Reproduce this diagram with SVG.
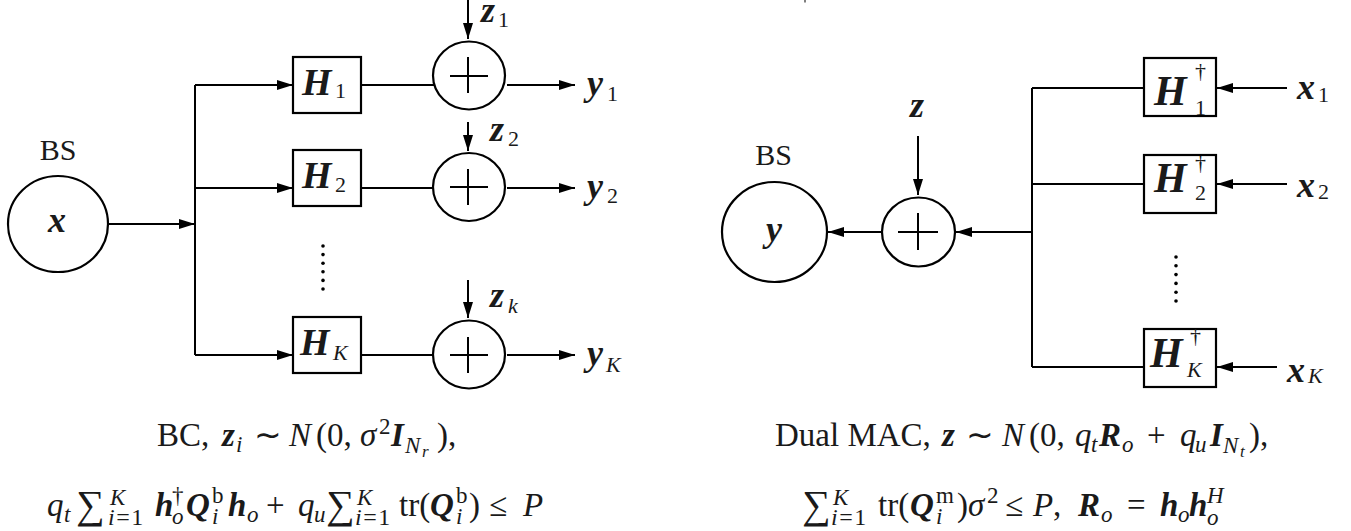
<svg xmlns="http://www.w3.org/2000/svg" width="1351" height="531" viewBox="0 0 1351 531">
<style>
.ln{stroke:#000;stroke-width:2;fill:none}
.box{fill:#fff;stroke:#000;stroke-width:2.2}
.circ{fill:#fff;stroke:#000;stroke-width:2.2}
.t{font-family:"Liberation Serif","Times New Roman",serif;fill:#1a1a1a}
.m{font-weight:bold;font-style:italic}
.i{font-style:italic}
.big{font-size:38px}
.bigr{font-size:42px}
.var{font-size:36px}
.s{font-size:22px}
.cap{font-size:33px}
.c2{font-size:23px}
.c3{font-size:17px}
.lim{font-size:24px;letter-spacing:1.5px}
.sum{font-size:40px}
.dot{fill:#000}
</style>
<defs>
<marker id="ah" viewBox="0 0 16 10" refX="16" refY="5" markerWidth="16" markerHeight="10" markerUnits="userSpaceOnUse" orient="auto"><path d="M0,0 L16,5 L0,10 z" fill="#000"/></marker>
</defs>
<rect width="1351" height="531" fill="#fff"/>
<line x1="805" y1="0" x2="805" y2="2.5" stroke="#555" stroke-width="1.5"/>

<g id="connectors">
<path class="ln" d="M108,224 H195" marker-end="url(#ah)"/>
<path class="ln" d="M195,85 V355"/>
<path class="ln" d="M195,85 H293" marker-end="url(#ah)"/>
<path class="ln" d="M195,188 H293" marker-end="url(#ah)"/>
<path class="ln" d="M195,355 H293" marker-end="url(#ah)"/>
<path class="ln" d="M361,85 H435"/>
<path class="ln" d="M361,188 H433"/>
<path class="ln" d="M361,355 H433"/>
<path class="ln" d="M468,0 V39" marker-end="url(#ah)"/>
<path class="ln" d="M468,122 V151" marker-end="url(#ah)"/>
<path class="ln" d="M468,280 V318" marker-end="url(#ah)"/>
<path class="ln" d="M507,85 H575" marker-end="url(#ah)"/>
<path class="ln" d="M507,188 H575" marker-end="url(#ah)"/>
<path class="ln" d="M507,355 H575" marker-end="url(#ah)"/>
<path class="ln" d="M882,232 H828" marker-end="url(#ah)"/>
<path class="ln" d="M918,136 V195" marker-end="url(#ah)"/>
<path class="ln" d="M1032,232 H956" marker-end="url(#ah)"/>
<path class="ln" d="M1032,88 V367"/>
<path class="ln" d="M1032,88 H1144"/>
<path class="ln" d="M1032,184 H1144"/>
<path class="ln" d="M1032,367 H1144"/>
<path class="ln" d="M1287,88 H1217" marker-end="url(#ah)"/>
<path class="ln" d="M1287,184 H1217" marker-end="url(#ah)"/>
<path class="ln" d="M1277,367 H1217" marker-end="url(#ah)"/>
</g>

<g id="bs-left">
<text class="t" x="58" y="160" font-size="30" text-anchor="middle">BS</text>
<ellipse class="circ" cx="58" cy="224" rx="50" ry="48"/>
<text class="t m var" x="57" y="232" text-anchor="middle">x</text>
</g>
<g id="h1">
<rect class="box" x="293" y="57" width="68" height="56"/>
<text class="t m big" x="302" y="95">H</text><text class="t s" x="335" y="98">1</text>
</g>
<g id="h2">
<rect class="box" x="293" y="150" width="68" height="56"/>
<text class="t m big" x="302" y="188">H</text><text class="t s" x="335" y="192">2</text>
</g>
<g id="hk">
<rect class="box" x="293" y="317" width="68" height="56"/>
<text class="t m big" x="300" y="355">H</text><text class="t s i" x="333" y="360">K</text>
</g>
<g id="dots-left">
<circle class="dot" cx="323" cy="246" r="1.8"/><circle class="dot" cx="323" cy="254.6" r="1.8"/><circle class="dot" cx="323" cy="263.2" r="1.8"/><circle class="dot" cx="323" cy="271.8" r="1.8"/><circle class="dot" cx="323" cy="280.4" r="1.8"/><circle class="dot" cx="323" cy="289" r="1.8"/>
</g>
<g id="add1">
<ellipse class="circ" cx="469" cy="75.5" rx="36" ry="34"/>
<path class="ln" d="M450,76 H488 M468,57 V93"/>
<text class="t m var" x="481" y="22">z</text><text class="t s" x="498" y="27">1</text>
</g>
<g id="add2">
<ellipse class="circ" cx="469" cy="187" rx="36" ry="34"/>
<path class="ln" d="M450,187 H488 M468,169 V205"/>
<text class="t m var" x="490" y="141">z</text><text class="t s" x="508" y="146">2</text>
</g>
<g id="addk">
<ellipse class="circ" cx="469" cy="354.5" rx="36" ry="34"/>
<path class="ln" d="M450,355 H488 M468,337 V373"/>
<text class="t m var" x="490" y="307">z</text><text class="t s i" x="508" y="313">k</text>
</g>
<g id="out1"><text class="t m var" x="587" y="95">y</text><text class="t s" x="607" y="101">1</text></g>
<g id="out2"><text class="t m var" x="587" y="198">y</text><text class="t s" x="607" y="203">2</text></g>
<g id="outk"><text class="t m var" x="587" y="365">y</text><text class="t s i" x="606" y="372">K</text></g>

<g id="bs-right">
<text class="t" x="773.5" y="165" font-size="30" text-anchor="middle">BS</text>
<ellipse class="circ" cx="774.5" cy="232" rx="52.5" ry="50"/>
<text class="t m var" x="774" y="241" text-anchor="middle">y</text>
</g>
<g id="add-right">
<ellipse class="circ" cx="918.5" cy="232" rx="36.5" ry="34.5"/>
<path class="ln" d="M898,232 H938 M918,213 V250"/>
<text class="t m var" x="917" y="117" text-anchor="middle">z</text>
</g>
<g id="h1d">
<rect class="box" x="1144" y="58" width="72" height="58"/>
<text class="t m bigr" x="1154" y="105">H</text><text class="t s" x="1195" y="78">†</text><text class="t s" x="1195" y="115">1</text>
</g>
<g id="h2d">
<rect class="box" x="1144" y="155" width="72" height="58"/>
<text class="t m bigr" x="1154" y="192">H</text><text class="t s" x="1195" y="170">†</text><text class="t s" x="1195" y="200">2</text>
</g>
<g id="hkd">
<rect class="box" x="1144" y="329" width="72" height="58"/>
<text class="t m bigr" x="1150" y="367">H</text><text class="t s" x="1190" y="343">†</text><text class="t s i" x="1187" y="377">K</text>
</g>
<g id="dots-right">
<circle class="dot" cx="1176" cy="257" r="1.8"/><circle class="dot" cx="1176" cy="265.8" r="1.8"/><circle class="dot" cx="1176" cy="274.6" r="1.8"/><circle class="dot" cx="1176" cy="283.4" r="1.8"/><circle class="dot" cx="1176" cy="292.2" r="1.8"/><circle class="dot" cx="1176" cy="301" r="1.8"/>
</g>
<g id="in1"><text class="t m var" x="1297" y="99">x</text><text class="t s" x="1318" y="102">1</text></g>
<g id="in2"><text class="t m var" x="1297" y="197">x</text><text class="t s" x="1318" y="199">2</text></g>
<g id="ink"><text class="t m var" x="1287" y="382">x</text><text class="t s i" x="1308" y="383">K</text></g>

<g id="caption-left">
<text class="t cap"><tspan x="157" y="446">BC,</tspan><tspan class="m" x="222" y="446">z</tspan><tspan class="i c2" x="236" y="452">i</tspan><tspan x="254" y="446">∼</tspan><tspan class="i" x="289" y="446">N</tspan><tspan x="316" y="446">(0,</tspan><tspan class="i" x="360" y="446">σ</tspan><tspan class="c2" x="379" y="434">2</tspan><tspan class="m" x="391" y="446">I</tspan><tspan class="i c2" x="405" y="453">N</tspan><tspan class="i c3" x="422" y="457">r</tspan><tspan x="437" y="446">),</tspan></text>
<text class="t cap"><tspan class="i" x="47" y="516">q</tspan><tspan class="i c2" x="64" y="522">t</tspan><tspan class="sum" x="76" y="518">∑</tspan><tspan class="i c2" x="110" y="505">K</tspan><tspan class="lim" x="108" y="525"><tspan class="i">i</tspan>=1</tspan><tspan class="m" x="155" y="516">h</tspan><tspan class="c2" x="172" y="503">†</tspan><tspan class="i c2" x="172" y="524">o</tspan><tspan class="m" x="186" y="516">Q</tspan><tspan class="c2" x="212" y="503">b</tspan><tspan class="i c2" x="212" y="524">i</tspan><tspan class="m" x="228" y="516">h</tspan><tspan class="i c2" x="247" y="522">o</tspan><tspan x="266" y="516">+</tspan><tspan class="i" x="298" y="516">q</tspan><tspan class="i c2" x="314" y="522">u</tspan><tspan class="sum" x="326" y="518">∑</tspan><tspan class="i c2" x="357" y="505">K</tspan><tspan class="lim" x="355" y="525"><tspan class="i">i</tspan>=1</tspan><tspan x="399" y="516">tr(</tspan><tspan class="m" x="430" y="516">Q</tspan><tspan class="c2" x="456" y="503">b</tspan><tspan class="i c2" x="456" y="524">i</tspan><tspan x="469" y="516">)</tspan><tspan x="489" y="516">≤</tspan><tspan class="i" x="523" y="516">P</tspan></text>
</g>
<g id="caption-right">
<text class="t cap"><tspan x="775" y="446">Dual MAC,</tspan><tspan class="m" x="942" y="446">z</tspan><tspan x="966" y="446">∼</tspan><tspan class="i" x="1002" y="446">N</tspan><tspan x="1029" y="446">(0,</tspan><tspan class="i" x="1075" y="446">q</tspan><tspan class="i c2" x="1091" y="452">t</tspan><tspan class="m" x="1099" y="446">R</tspan><tspan class="i c2" x="1122" y="452">o</tspan><tspan x="1147" y="446">+</tspan><tspan class="i" x="1180" y="446">q</tspan><tspan class="i c2" x="1195" y="452">u</tspan><tspan class="m" x="1210" y="446">I</tspan><tspan class="i c2" x="1223" y="453">N</tspan><tspan class="i c3" x="1240" y="457">t</tspan><tspan x="1249" y="446">),</tspan></text>
<text class="t cap"><tspan class="sum" x="802" y="518">∑</tspan><tspan class="i c2" x="833" y="505">K</tspan><tspan class="lim" x="831" y="525"><tspan class="i">i</tspan>=1</tspan><tspan x="878" y="516">tr(</tspan><tspan class="m" x="910" y="516">Q</tspan><tspan class="c2" x="936" y="503">m</tspan><tspan class="i c2" x="936" y="524">i</tspan><tspan x="957" y="516">)</tspan><tspan class="i" x="968" y="516">σ</tspan><tspan class="c2" x="987" y="503">2</tspan><tspan x="1005" y="516">≤</tspan><tspan class="i" x="1033" y="516">P</tspan><tspan x="1053" y="516">,</tspan><tspan class="m" x="1078" y="516">R</tspan><tspan class="i c2" x="1101" y="522">o</tspan><tspan x="1127" y="516">=</tspan><tspan class="m" x="1160" y="516">h</tspan><tspan class="i c2" x="1178" y="522">o</tspan><tspan class="m" x="1189" y="516">h</tspan><tspan class="i c2" x="1207" y="525">o</tspan><tspan class="i c2" x="1207" y="503">H</tspan></text>
</g>
</svg>
